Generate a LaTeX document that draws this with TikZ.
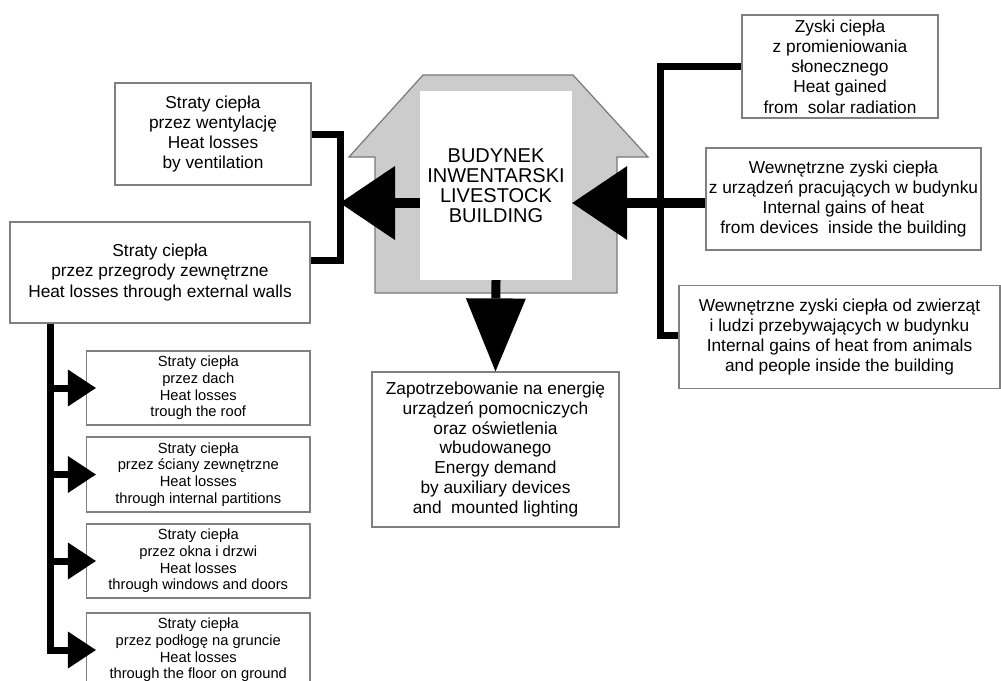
\documentclass[tikz,border=0pt]{standalone}
\usepackage{fontspec}
\setmainfont{Liberation Sans}
\usetikzlibrary{arrows.meta}
\definecolor{boxgray}{RGB}{128,128,128}
\definecolor{bfill}{RGB}{204,204,204}
\definecolor{bline}{RGB}{120,120,120}
\begin{document}
\begin{tikzpicture}[x=1pt,y=-1pt,
  box/.style={draw=boxgray, line width=1.2pt, fill=white, align=center, inner sep=0pt,
    font=\fontsize{17.3}{20.3}\selectfont},
  smallbox/.style={box, font=\fontsize{14.7}{16.7}\selectfont},
  branch/.style={line width=7pt, line join=miter},
  midline/.style={line width=10pt},
  bigarrow/.style={line width=10.5pt, -{Triangle[length=55pt,width=74pt,line width=0pt]}},
  downarrow/.style={line width=9pt, -{Triangle[length=73pt,width=60pt,line width=0pt]}},
  smallarrow/.style={line width=7pt, line join=miter, -{Triangle[length=28pt,width=37pt,line width=0pt]}},
]
\fill[white] (0,0) rectangle (1001,680);
\useasboundingbox (0,0) rectangle (1001,680);

% building
\filldraw[fill=bfill, draw=bline, line width=1.2pt, line join=miter]
  (375,293) -- (375,157) -- (349,157) -- (423,75) -- (573,75) -- (648,157) -- (617,157) -- (617,293) -- cycle;
\node[fill=white, inner sep=0pt, minimum width=152pt, minimum height=189pt, align=center,
  font=\fontsize{20}{20}\selectfont] (bld) at (496,185.5) {BUDYNEK\\INWENTARSKI\\LIVESTOCK\\BUILDING};

% right boxes
\node[box, minimum width=196pt, minimum height=103pt] (solar) at (840,66.5)
  {Zyski ciepła\\z promieniowania\\słonecznego\\Heat gained\\from\ \ solar radiation};
\node[box, minimum width=275pt, minimum height=102pt] (devices) at (843.5,199)
  {Wewnętrzne zyski ciepła\\z urządzeń pracujących w budynku\\Internal gains of heat\\from devices\ \ inside the building};
\node[box, minimum width=321pt, minimum height=103pt] (animals) at (839.5,337)
  {Wewnętrzne zyski ciepła od zwierząt\\i ludzi przebywających w budynku\\Internal gains of heat from animals\\and people inside the building};

% left boxes
\node[box, minimum width=196pt, minimum height=102pt] (vent) at (213,134)
  {Straty ciepła\\przez wentylację\\Heat losses\\by ventilation};
\node[box, minimum width=300pt, minimum height=101pt] (ext) at (160,272.5)
  {Straty ciepła\\przez przegrody zewnętrzne\\Heat losses through external walls};

% energy box
\node[box, minimum width=247pt, minimum height=155pt, font=\fontsize{17.3}{19.8}\selectfont] (energy) at (495.5,449.5)
  {Zapotrzebowanie na energię\\urządzeń pomocniczych\\oraz oświetlenia\\wbudowanego\\Energy demand\\by auxiliary devices\\and\ \ mounted lighting};

% small boxes
\node[smallbox, minimum width=223.5pt, minimum height=74pt] (b1) at (198.25,388)
  {Straty ciepła\\przez dach\\Heat losses\\trough the roof};
\node[smallbox, minimum width=223.5pt, minimum height=75pt] (b2) at (198.25,474.5)
  {Straty ciepła\\przez ściany zewnętrzne\\Heat losses\\through internal partitions};
\node[smallbox, minimum width=223.5pt, minimum height=74pt] (b3) at (198.25,561)
  {Straty ciepła\\przez okna i drzwi\\Heat losses\\through windows and doors};
\node[smallbox, minimum width=223.5pt, minimum height=74pt] (b4) at (198.25,650)
  {Straty ciepła\\przez podłogę na gruncie\\Heat losses\\through the floor on ground};

% junction coordinates
\coordinate (jl) at (340,203);
\coordinate (jr) at (660,203);
\coordinate (spine) at (50,323);

% left connectors
\draw[branch] (vent.east) -| (jl) |- ([yshift=12.5pt]ext.east);
\draw[bigarrow] (bld.west |- jl) -- (jl);

% right connectors
\draw[branch] (solar.west) -| (jr) |- ([yshift=2pt]animals.west);
\draw[midline] (devices.west |- jr) -- (jr);
\draw[bigarrow] (jr) -- (bld.east |- jr);

% down arrow
\draw[downarrow] (bld.south) -- (energy.north);

% bottom-left spine
\draw[smallarrow] (ext.south -| spine) |- ([xshift=10pt]b4.west);
\draw[smallarrow] (spine |- b1.west) -- ([xshift=10pt]b1.west);
\draw[smallarrow] (spine |- b2.west) -- ([xshift=10pt]b2.west);
\draw[smallarrow] (spine |- b3.west) -- ([xshift=10pt]b3.west);
\end{tikzpicture}
\end{document}
